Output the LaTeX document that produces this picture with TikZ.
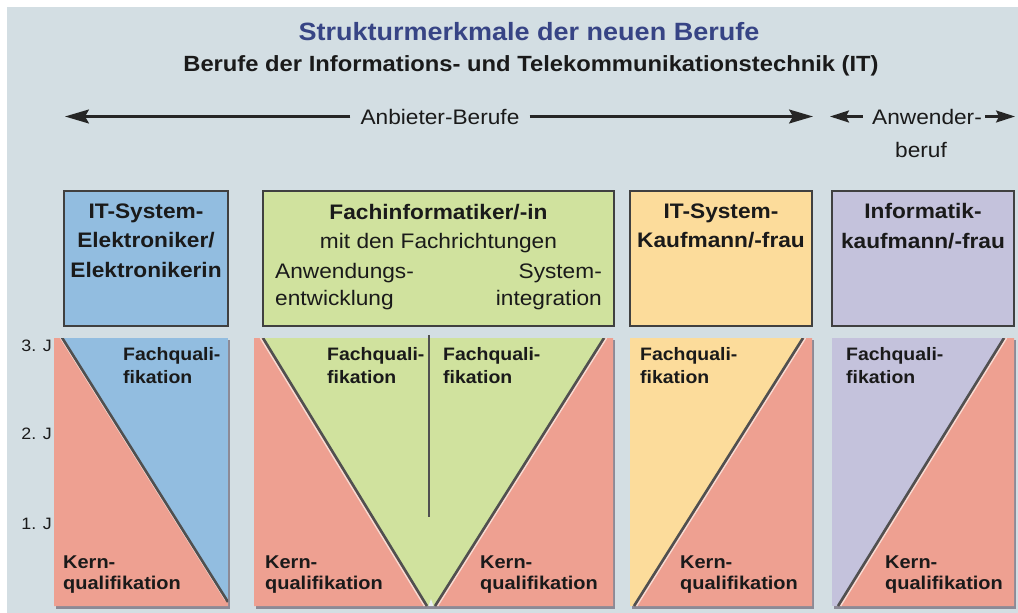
\documentclass[tikz,border=0pt]{standalone}
\usepackage{fontspec}
\setmainfont[FakeStretch=1.08]{Liberation Sans}
\usetikzlibrary{arrows.meta}
\definecolor{bg}{HTML}{D3DEE3}
\definecolor{cblue}{HTML}{92BDE0}
\definecolor{cpink}{HTML}{EEA091}
\definecolor{cgreen}{HTML}{D0E29E}
\definecolor{corange}{HTML}{FCDC9B}
\definecolor{cpurple}{HTML}{C4C2DC}
\definecolor{ctitle}{HTML}{374485}
\definecolor{boxline}{HTML}{404040}
\definecolor{dline}{HTML}{505050}
\definecolor{hlc}{HTML}{F7DCD4}
\definecolor{shad}{HTML}{8C8A96}
\definecolor{txt}{HTML}{1A1A1A}
\begin{document}
\begin{tikzpicture}[x=1pt,y=-1pt,
  box/.style={draw=boxline, line width=1.3pt, inner sep=0pt, outer sep=0pt, anchor=north west},
  bt/.style={font=\bfseries\fontsize{21}{29.5}\selectfont, align=center, inner sep=0pt, text=txt, anchor=north},
  rt/.style={font=\fontsize{21}{27}\selectfont, inner sep=0pt, text=txt},
  fq/.style={font=\bfseries\fontsize{18}{23}\selectfont, align=left, inner sep=0pt, text=txt, anchor=north west},
  kq/.style={font=\bfseries\fontsize{18.5}{21.5}\selectfont, align=left, inner sep=0pt, text=txt, anchor=north west},
  yl/.style={font=\fontsize{16.5}{20}\selectfont, anchor=base east, inner sep=0pt, text=txt},
  hdr/.style={font=\fontsize{21}{25}\selectfont, anchor=base, inner sep=0pt, text=txt},
  arr/.style={-{Stealth[length=24pt,width=14pt,inset=4pt]}, line width=2.2pt, draw=black!85},
  sarr/.style={-{Stealth[length=19pt,width=12pt,inset=3pt]}, line width=2.2pt, draw=black!85},
  dl/.style={draw=dline, line width=2.6pt},
  hl/.style={draw=hlc, line width=1.4pt}
]
\useasboundingbox (0,0) rectangle (1018,613);
\fill[white] (0,0) rectangle (1018,613);
\fill[bg] (7,7) rectangle (1018,613);

% titles
\node[font=\bfseries\fontsize{25}{30}\selectfont, text=ctitle, anchor=base, inner sep=0pt] (title) at (529,40) {Strukturmerkmale der neuen Berufe};
\node[font=\bfseries\fontsize{22}{26}\selectfont, text=txt, anchor=base, inner sep=0pt] (sub) at (531,71) {Berufe der Informations- und Telekommunikationstechnik (IT)};

% arrow row
\node[hdr] (anb) at (440,124) {Anbieter-Berufe};
\node[hdr] (anw) at (927,124) {Anwender-};
\node[hdr] (ber) at (921,157) {beruf};
\coordinate (aL) at (65,117);
\coordinate (aR) at (813,117);
\coordinate (wL) at (830,117);
\coordinate (wR) at (1015,117);
\draw[arr] ([xshift=-10pt]anb.west) -- (aL |- anb.west);
\draw[arr] ([xshift=10pt]anb.east) -- (aR |- anb.east);
\draw[sarr] ([xshift=-9pt]anw.west) -- (wL |- anw.west);
\draw[sarr] ([xshift=3pt]anw.east) -- (wR |- anw.east);

% header boxes
\node[box, fill=cblue, minimum width=164pt, minimum height=135pt] (b1) at (64,191) {};
\node[box, fill=cgreen, minimum width=351pt, minimum height=135pt] (b2) at (263,191) {};
\node[box, fill=corange, minimum width=182pt, minimum height=135pt] (b3) at (630,191) {};
\node[box, fill=cpurple, minimum width=182pt, minimum height=135pt] (b4) at (832,191) {};

\node[bt] (t1) at (146,203.5) {IT-System-\\Elektroniker/\\Elektronikerin};
\node[bt] (t2) at (438.5,203.7) {Fachinformatiker/-in\\{\mdseries mit den Fachrichtungen}};
\node[rt, align=left, anchor=north west] (t2a) at (275,263.2) {Anwendungs-\\entwicklung};
\node[rt, align=right, anchor=north east] (t2b) at (602,263.5) {System-\\integration};
\node[bt] (t3) at (721,203.5) {IT-System-\\Kaufmann/-frau};
\node[bt] (t4) at (923,203.5) {Informatik-\\kaufmann/-frau};

% shadows
\foreach \a/\b in {54/228, 254/613, 630/812, 832/1014}
  \fill[shad] (\a+2,340) rectangle (\b+2,608.5);

% panel 1 (blue)
\fill[cblue] (54,338) rectangle (228,606);
\fill[cpink] (54,338) -- (62,338) -- (228,602) -- (228,606) -- (54,606) -- cycle;
\begin{scope}
\clip (54,338) rectangle (228,606);
\draw[hl] (59.4,336) -- (225.4,600);
\draw[dl] (61,336) -- (228,602);
\end{scope}

% panel 2 (green)
\fill[cgreen] (254,338) rectangle (613,606);
\fill[cpink] (254,338) -- (263,338) -- (427,606) -- (254,606) -- cycle;
\fill[cpink] (604,338) -- (613,338) -- (613,606) -- (435,606) -- cycle;
\fill[bg!50!white] (428.5,606) -- (431,599) -- (433.5,606) -- cycle;
\begin{scope}
\clip (254,338) rectangle (613,606);
\draw[hl] (260.4,338) -- (424.4,606);
\draw[dl] (263,338) -- (427,606);
\draw[hl] (606.6,338) -- (437.6,606);
\draw[dl] (604,338) -- (435,606);
\end{scope}
\draw[draw=dline, line width=1.5pt] (429,335) -- (429,517);

% panel 3 (orange)
\fill[corange] (630,338) rectangle (812,606);
\fill[cpink] (634,606) -- (803,338) -- (812,338) -- (812,606) -- cycle;
\begin{scope}
\clip (630,338) rectangle (812,606);
\draw[hl] (636.6,606) -- (805.6,338);
\draw[dl] (634,606) -- (803,338);
\end{scope}

% panel 4 (purple)
\fill[cpurple] (832,338) rectangle (1014,606);
\fill[cpink] (838,606) -- (1004,338) -- (1014,338) -- (1014,606) -- cycle;
\begin{scope}
\clip (832,338) rectangle (1014,606);
\draw[hl] (840.6,606) -- (1006.6,338);
\draw[dl] (838,606) -- (1004,338);
\end{scope}

% year labels
\node[yl] (y3) at (52,351) {3. J};
\node[yl] (y2) at (52,439) {2. J};
\node[yl] (y1) at (52,529) {1. J};

% panel labels
\node[fq] (f1) at (123,347) {Fachquali-\\fikation};
\node[fq] (f2) at (327,347) {Fachquali-\\fikation};
\node[fq] (f3) at (443,347) {Fachquali-\\fikation};
\node[fq] (f4) at (640,347) {Fachquali-\\fikation};
\node[fq] (f5) at (846,347) {Fachquali-\\fikation};

\node[kq] (k1) at (63,555.5) {Kern-\\qualifikation};
\node[kq] (k2) at (265,555.5) {Kern-\\qualifikation};
\node[kq] (k3) at (480,555.5) {Kern-\\qualifikation};
\node[kq] (k4) at (680,555.5) {Kern-\\qualifikation};
\node[kq] (k5) at (885,555.5) {Kern-\\qualifikation};
\end{tikzpicture}
\end{document}
